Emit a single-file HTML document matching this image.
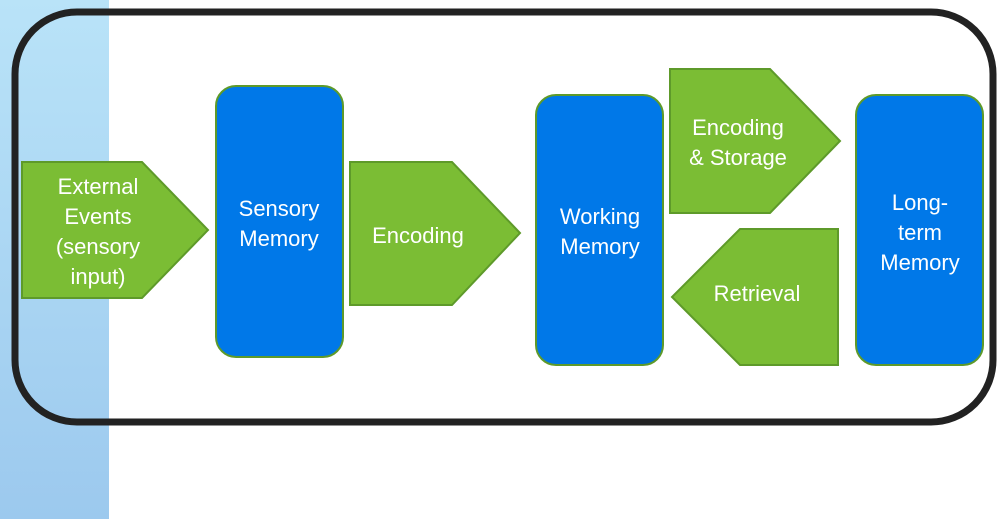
<!DOCTYPE html>
<html><head><style>
html,body{margin:0;padding:0;width:1006px;height:519px;overflow:hidden;background:#fff;}
svg{display:block}
text{font-family:"Liberation Sans",sans-serif;fill:#fff;font-size:22px;text-anchor:middle}
</style></head><body>
<svg width="1006" height="519" viewBox="0 0 1006 519">
<defs><linearGradient id="g" x1="0" y1="0" x2="0" y2="1"><stop offset="0" stop-color="#b9e3f8"/><stop offset="1" stop-color="#9cc9ee"/></linearGradient></defs>
<rect x="0" y="0" width="109" height="519" fill="url(#g)"/>
<rect x="15" y="12" width="978" height="410" rx="62" fill="none" stroke="#222" stroke-width="7"/>
<g fill="#7bbd34" stroke="#5e9a2a" stroke-width="2">
<polygon points="22,162 142,162 208,230 142,298 22,298"/>
<polygon points="350,162 452,162 520,233 452,305 350,305"/>
<polygon points="670,69 770,69 840,141 770,213 670,213"/>
<polygon points="838,229 740,229 672,297 740,365 838,365"/>
</g>
<g fill="#0078e8" stroke="#5e9a2a" stroke-width="2">
<rect x="216" y="86" width="127" height="271" rx="20"/>
<rect x="536" y="95" width="127" height="270" rx="20"/>
<rect x="856" y="95" width="127" height="270" rx="20"/>
</g>
<text x="98" y="194">External</text><text x="98" y="224">Events</text><text x="98" y="254">(sensory</text><text x="98" y="284">input)</text>
<text x="279" y="216">Sensory</text><text x="279" y="246">Memory</text>
<text x="418" y="243">Encoding</text>
<text x="600" y="224">Working</text><text x="600" y="254">Memory</text>
<text x="738" y="135">Encoding</text><text x="738" y="165">&amp; Storage</text>
<text x="757" y="301">Retrieval</text>
<text x="920" y="210">Long-</text><text x="920" y="240">term</text><text x="920" y="270">Memory</text>
</svg>
</body></html>
